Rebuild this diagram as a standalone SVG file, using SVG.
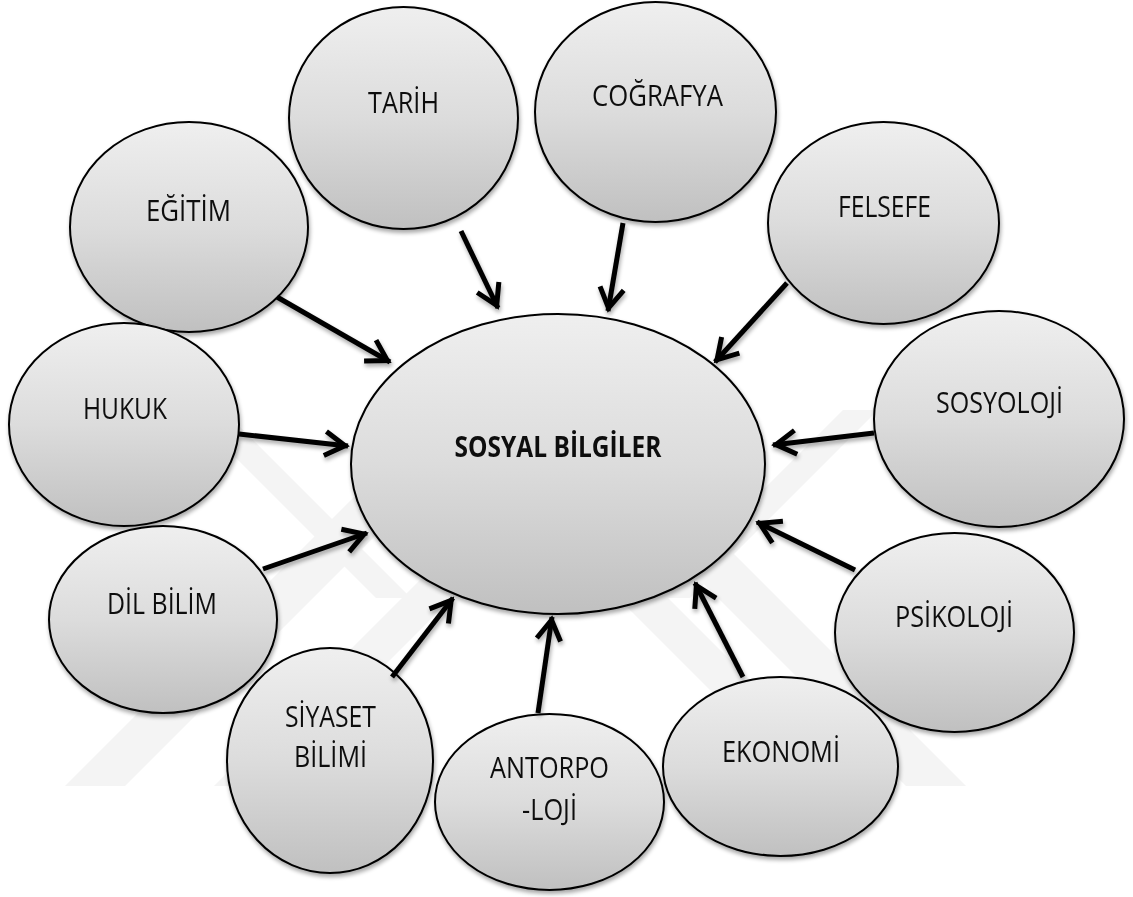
<svg xmlns="http://www.w3.org/2000/svg" width="1133" height="897" viewBox="0 0 1133 897">
  <defs>
    <linearGradient id="fill" x1="0" y1="0" x2="0" y2="1">
      <stop offset="0" stop-color="#efefef"/>
      <stop offset="0.5" stop-color="#dcdcdc"/>
      <stop offset="1" stop-color="#c0c0c0"/>
    </linearGradient>
    <filter id="shadow" x="-10%" y="-10%" width="125%" height="130%">
      <feGaussianBlur in="SourceAlpha" stdDeviation="2"/>
      <feOffset dx="1" dy="3" result="off"/>
      <feComponentTransfer><feFuncA type="linear" slope="0.35"/></feComponentTransfer>
      <feMerge><feMergeNode/><feMergeNode in="SourceGraphic"/></feMerge>
    </filter>
    <marker id="arrow" markerUnits="userSpaceOnUse" markerWidth="40" markerHeight="40" viewBox="-30 -20 40 40" refX="0" refY="0" orient="auto" overflow="visible">
      <path d="M-23,-12 L-3,0 L-23,12" fill="none" stroke="#000" stroke-width="5"/>
    </marker>
    <style>
      .node ellipse { fill: url(#fill); stroke: #000; stroke-width: 2; }
      .node text { font-family: "Open Sans", "Noto Sans", "DejaVu Sans", sans-serif; font-size: 29px; fill: #111; text-anchor: middle; }
      .node text.main { font-weight: bold; font-size: 28px; }
      .link { stroke: #000; stroke-width: 5; fill: none; marker-end: url(#arrow); }
      .wm { fill: #f4f4f4; stroke: none; }
    </style>
  </defs>

  <rect width="1133" height="897" fill="#fff"/>

  <!-- faint background emblem -->
  <g id="emblem">
    <polygon class="wm" points="65,786 515.5,335.5 966,786 906,786 515.5,395.5 125,786"/>
    <polygon class="wm" points="214,786 535,465 856,786 806,786 535,515 264,786"/>
    <polygon class="wm" points="843,410 878,410 690,598 655,598"/>
    <polygon class="wm" points="188,410 223,410 411,598 376,598"/>
  </g>

  <g id="tarih" class="node" filter="url(#shadow)">
    <ellipse cx="403.5" cy="118" rx="114.5" ry="111"/>
    <text x="403.5" y="113" textLength="71" lengthAdjust="spacingAndGlyphs">TARİH</text>
  </g>
  <g id="cografya" class="node" filter="url(#shadow)">
    <ellipse cx="655.5" cy="112" rx="120.5" ry="110"/>
    <text x="657.5" y="106" textLength="131" lengthAdjust="spacingAndGlyphs">COĞRAFYA</text>
  </g>
  <g id="egitim" class="node" filter="url(#shadow)">
    <ellipse cx="189" cy="227" rx="119" ry="105"/>
    <text x="188.5" y="221" textLength="85" lengthAdjust="spacingAndGlyphs">EĞİTİM</text>
  </g>
  <g id="felsefe" class="node" filter="url(#shadow)">
    <ellipse cx="883.5" cy="223" rx="115.5" ry="101"/>
    <text x="884.5" y="217" textLength="93" lengthAdjust="spacingAndGlyphs">FELSEFE</text>
  </g>
  <g id="hukuk" class="node" filter="url(#shadow)">
    <ellipse cx="124" cy="424.5" rx="115" ry="101.5"/>
    <text x="125" y="419" textLength="84" lengthAdjust="spacingAndGlyphs">HUKUK</text>
  </g>
  <g id="sosyoloji" class="node" filter="url(#shadow)">
    <ellipse cx="999" cy="419" rx="125" ry="108"/>
    <text x="999.5" y="413" textLength="127" lengthAdjust="spacingAndGlyphs">SOSYOLOJİ</text>
  </g>
  <g id="sosyal-bilgiler" class="node" filter="url(#shadow)">
    <ellipse cx="558" cy="464" rx="207" ry="150"/>
    <text class="main" x="558" y="457" textLength="207" lengthAdjust="spacingAndGlyphs">SOSYAL BİLGİLER</text>
  </g>
  <g id="dil-bilim" class="node" filter="url(#shadow)">
    <ellipse cx="163" cy="619.5" rx="114" ry="93.5"/>
    <text x="162" y="614" textLength="110" lengthAdjust="spacingAndGlyphs">DİL BİLİM</text>
  </g>
  <g id="psikoloji" class="node" filter="url(#shadow)">
    <ellipse cx="954.5" cy="632.5" rx="119.5" ry="99.5"/>
    <text x="954" y="627" textLength="118" lengthAdjust="spacingAndGlyphs">PSİKOLOJİ</text>
  </g>
  <g id="ekonomi" class="node" filter="url(#shadow)">
    <ellipse cx="780.5" cy="766.5" rx="117.5" ry="89.5"/>
    <text x="781" y="762" textLength="118" lengthAdjust="spacingAndGlyphs">EKONOMİ</text>
  </g>
  <g id="siyaset-bilimi" class="node" filter="url(#shadow)">
    <ellipse cx="330" cy="760.5" rx="103" ry="112.5"/>
    <text x="330.5" y="727" textLength="91" lengthAdjust="spacingAndGlyphs">SİYASET</text>
    <text x="330.5" y="767" textLength="73" lengthAdjust="spacingAndGlyphs">BİLİMİ</text>
  </g>
  <g id="antorpoloji" class="node" filter="url(#shadow)">
    <ellipse cx="549.5" cy="802" rx="114.5" ry="88"/>
    <text x="549.5" y="778" textLength="119" lengthAdjust="spacingAndGlyphs">ANTORPO</text>
    <text x="549.5" y="820" textLength="55" lengthAdjust="spacingAndGlyphs">-LOJİ</text>
  </g>

  <!-- arrows into the central node -->
  <g id="connectors" filter="url(#shadow)">
    <line class="link" x1="277" y1="297" x2="390" y2="362"/>
    <line class="link" x1="461" y1="231" x2="498" y2="308"/>
    <line class="link" x1="623" y1="223" x2="608" y2="311"/>
    <line class="link" x1="787" y1="283" x2="715" y2="362"/>
    <line class="link" x1="239" y1="434" x2="348" y2="446"/>
    <line class="link" x1="874" y1="433" x2="773" y2="445"/>
    <line class="link" x1="263" y1="569" x2="367" y2="533"/>
    <line class="link" x1="855" y1="570" x2="757" y2="522"/>
    <line class="link" x1="392" y1="677" x2="453" y2="598"/>
    <line class="link" x1="538" y1="713" x2="552" y2="617"/>
    <line class="link" x1="743" y1="677" x2="695" y2="583"/>
  </g>
</svg>
